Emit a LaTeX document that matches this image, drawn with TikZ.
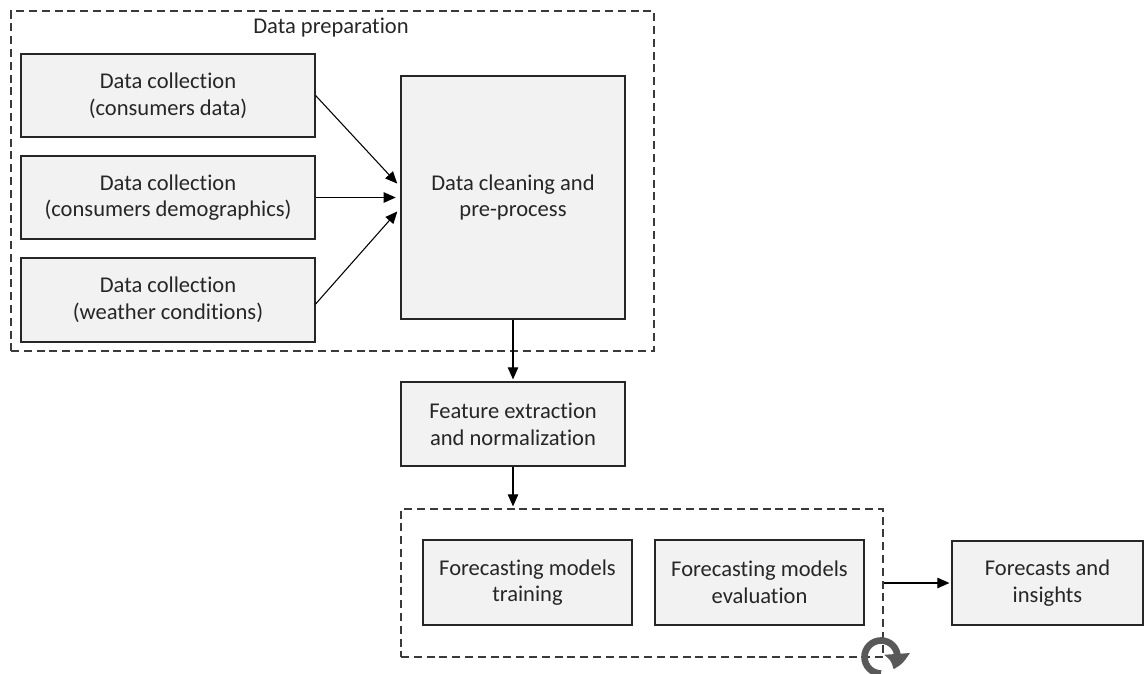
\documentclass[tikz,border=0pt]{standalone}
\usepackage{fontspec}
\setmainfont{Carlito}[Ligatures={NoCommon}]
\usetikzlibrary{arrows.meta,calc,fit,bending}

\definecolor{boxfill}{HTML}{F2F2F2}
\definecolor{boxline}{HTML}{262626}
\definecolor{dashline}{HTML}{3A3A3A}
\definecolor{iconcol}{HTML}{595959}

\tikzset{
  labelfont/.style={font=\fontsize{16.9}{20}\selectfont},
  stepbox/.style={draw=boxline, fill=boxfill, line width=0.9pt, inner sep=0pt,
    align=center, text=boxline, labelfont},
  groupbox/.style={draw=dashline, line width=0.9pt, dash pattern=on 6pt off 3.6pt,
    inner sep=0pt},
  flow/.style={draw=black, line width=0.8pt,
    -{Triangle[length=9pt,width=7.8pt]}, shorten >=1.5pt},
}

\begin{document}
\begin{tikzpicture}[x=0.75pt,y=-0.75pt]
  \useasboundingbox (0,0) rectangle (1145,674);

  % group frames
  \coordinate (g1a) at (11,11);
  \coordinate (g1b) at (654,351);
  \node[groupbox, fit=(g1a)(g1b)] (prep) {};
  \node[text=boxline, labelfont] (preplabel) at (331,28) {Data preparation};

  \coordinate (g2a) at (401,509);
  \coordinate (g2b) at (883,657);
  \node[groupbox, fit=(g2a)(g2b)] (models) {};

  % data collection steps
  \node[stepbox, minimum width=294*0.75pt, minimum height=83*0.75pt] (A) at (168,95.5)
    {Data collection\\(consumers data)};
  \node[stepbox, minimum width=294*0.75pt, minimum height=83*0.75pt] (B) at (168,197.5)
    {Data collection\\(consumers demographics)};
  \node[stepbox, minimum width=294*0.75pt, minimum height=84*0.75pt] (C) at (168,300)
    {Data collection\\(weather conditions)};

  % cleaning, features
  \node[stepbox, minimum width=224*0.75pt, minimum height=243*0.75pt] (D) at (513,197.5)
    {Data cleaning and\\pre-process};
  \node[stepbox, minimum width=224*0.75pt, minimum height=84*0.75pt] (E) at (513,424)
    {Feature extraction\\and normalization};

  % modelling
  \node[stepbox, minimum width=209*0.75pt, minimum height=85*0.75pt] (F) at (527.5,582.5)
    {Forecasting models\\training};
  \node[stepbox, minimum width=209*0.75pt, minimum height=85*0.75pt] (G) at (759.5,582.5)
    {Forecasting models\\evaluation};
  \node[stepbox, minimum width=191*0.75pt, minimum height=84*0.75pt] (H) at (1047.5,583)
    {Forecasts and\\insights};

  % connectors
  \draw[flow, shorten >=3.5pt] (A.east) -- ($(D.west)+(0,-10.5)$);
  \draw[flow, shorten >=3.5pt] (B.east) -- (D.west);
  \draw[flow, shorten >=3.5pt] ($(C.east)+(0,4)$) -- ($(D.west)+(0,10.5)$);
  \draw[flow] (D.south) -- (E.north);
  \draw[flow] (E.south) -- (E.south |- models.north);
  \draw[flow] (models.east) -- (H.west);

  % iteration icon (clockwise loop)
  \coordinate (loopc) at (881,657);
  \draw[iconcol, line width=5pt,
        -{Triangle[length=12pt,width=18pt,bend]}]
    ($(loopc)+(0,16.5)$) arc[start angle=270, end angle=-45, radius=16.5*0.75pt];
\end{tikzpicture}
\end{document}
